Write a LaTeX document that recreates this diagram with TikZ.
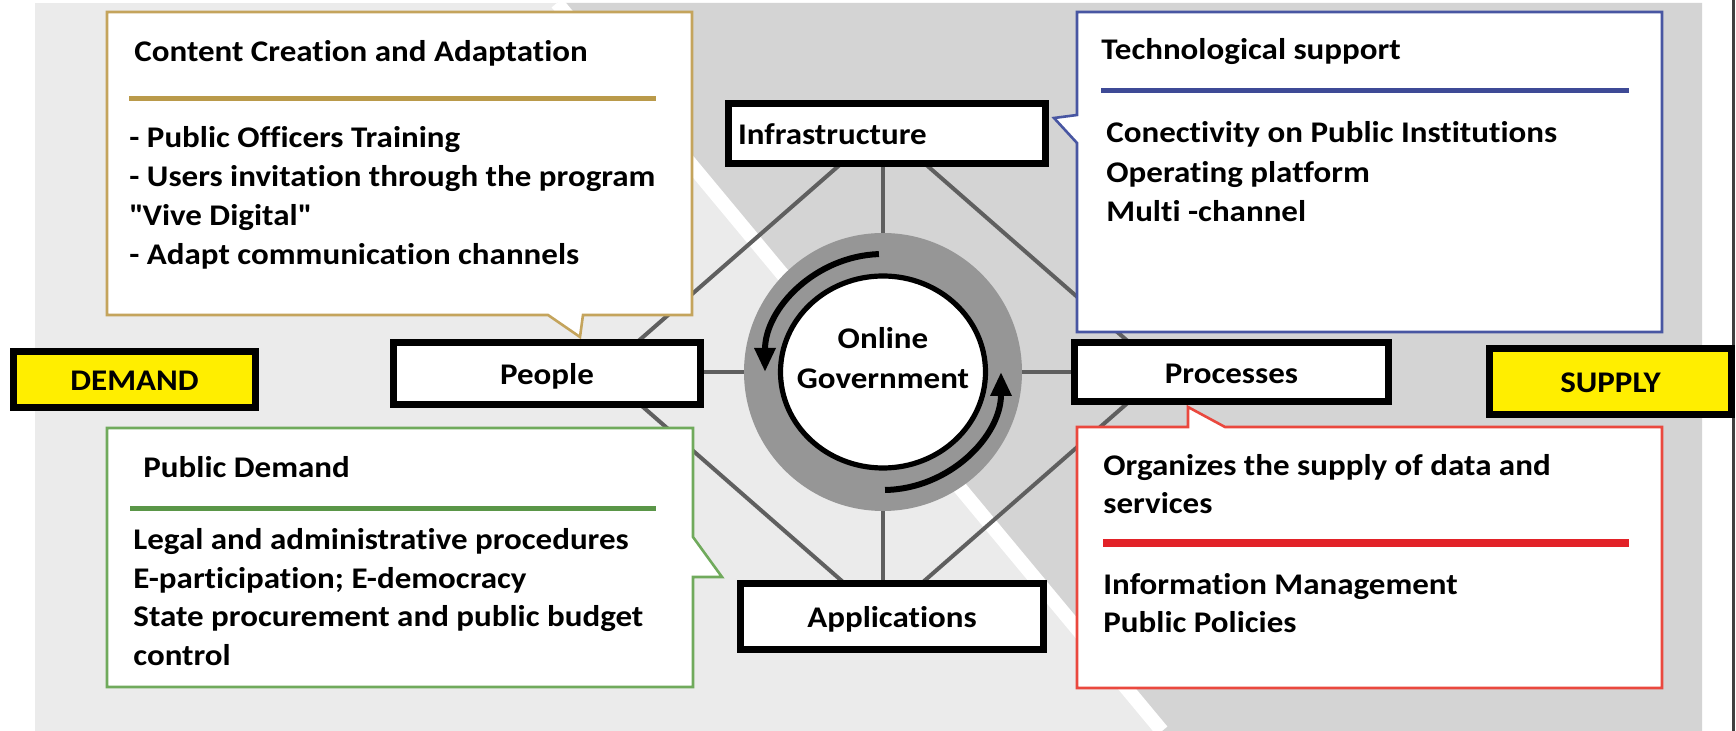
\documentclass[tikz,border=0pt]{standalone}
\usepackage{fontspec}
\setmainfont{Carlito}[FakeStretch=1.1, Ligatures=NoCommon]
\usepackage{tikz}
\usetikzlibrary{arrows.meta,shapes.geometric}

\definecolor{bglight}{RGB}{235,235,235}
\definecolor{bgdark}{RGB}{212,212,212}
\definecolor{ringgray}{RGB}{150,150,150}
\definecolor{linegray}{RGB}{95,95,95}
\definecolor{goldline}{RGB}{196,164,92}
\definecolor{goldrule}{RGB}{186,154,74}
\definecolor{blueline}{RGB}{72,86,162}
\definecolor{bluerule}{RGB}{62,74,150}
\definecolor{greenline}{RGB}{112,170,92}
\definecolor{greenrule}{RGB}{90,150,72}
\definecolor{redline}{RGB}{234,72,62}
\definecolor{redrule}{RGB}{226,34,40}
\definecolor{tagyellow}{RGB}{255,238,0}

\begin{document}
\begin{tikzpicture}[x=0.5pt, y=-0.5pt, >={Triangle[length=12pt,width=10pt]},
  box/.style={draw, line width=3.4pt, fill=white, inner sep=0pt,
    font=\bfseries\fontsize{15}{18}\selectfont, text height=11.5pt, text depth=0pt},
  tagbox/.style={box, fill=tagyellow, line width=3.5pt, minimum width=121pt},
  txt/.style={anchor=base west, inner sep=0pt, font=\bfseries\fontsize{15}{18}\selectfont},
  bubble/.style={fill=white, line width=1.3pt},
  sepline/.style={line width=2.5pt},
  spoke/.style={draw=linegray, line width=2pt},
  cyclearrow/.style={->, line width=3pt}]
\useasboundingbox (0,0) rectangle (1736,731);

% background
\fill[white] (0,0) rectangle (1736,731);
\fill[bglight] (35,3) rectangle (1702,731);
\fill[bgdark] (557,3) -- (1702,3) -- (1702,731) -- (1162,731) -- cycle;
\draw[white, line width=7pt] (557,3) -- (1162,731);
\draw[black!75, line width=1.5pt] (1733,0) -- (1733,731);

% diamond behind the boxes
\coordinate (dtop) at (883,127);
\coordinate (dright) at (1163,372);
\coordinate (dbottom) at (883,617);
\coordinate (dleft) at (603,372);
\draw[spoke] (dtop) -- (dright) -- (dbottom) -- (dleft) -- cycle;

% centre
\node[circle, fill=ringgray, minimum size=139pt, inner sep=0pt] (ring) at (883,372) {};
\node[ellipse, draw, line width=2.6pt, fill=white, minimum width=102.5pt, minimum height=96pt, inner sep=0pt] (core) at (883,372) {};
\node[font=\bfseries\fontsize{15}{20}\selectfont, align=center, inner sep=0pt] (govtext) at (883,358) {Online\\Government};
\draw[cyclearrow] (core.center) ++(-92:118) arc[start angle=-92, end angle=-180, radius=118];
\draw[cyclearrow] (core.center) ++(89:118) arc[start angle=89, end angle=0, radius=118];

% callouts
\filldraw[bubble, draw=goldline] (107,12) -- (692,12) -- (692,315) -- (583,315) -- (580,337) -- (548,315) -- (107,315) -- cycle;
\filldraw[bubble, draw=blueline] (1077,12) -- (1662,12) -- (1662,332) -- (1077,332) -- (1077,143) -- (1054,118) -- (1077,115) -- cycle;
\filldraw[bubble, draw=greenline] (107,428) -- (693,428) -- (693,537) -- (722,577) -- (693,577) -- (693,687) -- (107,687) -- cycle;
\filldraw[bubble, draw=redline] (1077,427) -- (1188,427) -- (1188,407) -- (1225,427) -- (1662,427) -- (1662,688) -- (1077,688) -- cycle;

\node[txt] (ctitle) at (134,62) {Content Creation and Adaptation};
\draw[sepline, goldrule] (129,99) -- (656,99);
\foreach \t [count=\i from 0] in {- Public Officers Training, - Users invitation through the program, \textquotedbl Vive Digital\textquotedbl, - Adapt communication channels}
  \node[txt] (citem\i) at (129,{148+38.8*\i}) {\t};

\node[txt] (ttitle) at (1101,60) {Technological support};
\draw[sepline, bluerule] (1101,91) -- (1629,91);
\foreach \t [count=\i from 0] in {Conectivity on Public Institutions, Operating platform, Multi -channel}
  \node[txt] (titem\i) at (1106,{143+39.3*\i}) {\t};

\node[txt] (gtitle) at (143,478) {Public Demand};
\draw[sepline, greenrule] (130,509) -- (656,509);
\foreach \t [count=\i from 0] in {Legal and administrative procedures, E-participation; E-democracy, State procurement and public budget, control}
  \node[txt] (gitem\i) at (133,{550+38.5*\i}) {\t};

\node[txt] (rtitle) at (1103,476) {Organizes the supply of data and};
\node[txt] (rtitle2) at (1103,514) {services};
\draw[sepline, redrule, line width=3.6pt] (1103,543) -- (1629,543);
\node[txt] (ritem0) at (1103,595) {Information Management};
\node[txt] (ritem1) at (1103,633) {Public Policies};

% boxes
\node[box, text width=149pt, align=left, inner xsep=4.8pt, minimum height=30.1pt] (infra) at (887,133.5) {Infrastructure};
\node[box, minimum width=153.6pt, minimum height=31.1pt] (people) at (547,373.5) {People};
\node[box, minimum width=157.1pt, minimum height=29.6pt] (proc) at (1231.5,372) {Processes};
\node[box, minimum width=151.6pt, minimum height=33.1pt] (apps) at (892,616.5) {Applications};
\node[tagbox, minimum height=28pt] (demand) at (134.5,379.5) {DEMAND};
\node[tagbox, minimum height=33pt] (supply) at (1610.5,381.5) {SUPPLY};

% spokes
\draw[spoke] (ring.north) -- (ring.north |- infra.south);
\draw[spoke] (ring.south) -- (ring.south |- apps.north);
\draw[spoke] (ring.west) -- (ring.west -| people.east);
\draw[spoke] (ring.east) -- (ring.east -| proc.west);
\end{tikzpicture}
\end{document}
